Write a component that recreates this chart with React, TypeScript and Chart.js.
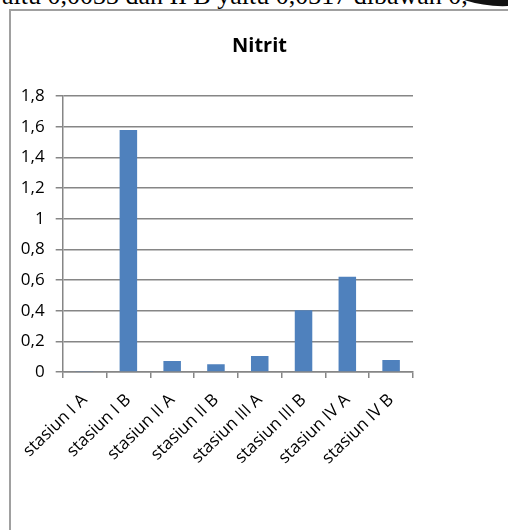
import React, { useEffect, useRef } from "react";
import { Chart, registerables } from "chart.js";

Chart.register(...registerables);

// Nitrite concentration per sampling station
const categories = [
  "stasiun I A",
  "stasiun I B",
  "stasiun II A",
  "stasiun II B",
  "stasiun III A",
  "stasiun III B",
  "stasiun IV A",
  "stasiun IV B",
];
const nitritValues = [0.0033, 1.578, 0.072, 0.05, 0.104, 0.402, 0.622, 0.078];
const yMin = 0;
const yMax = 1.8;
const yStep = 0.2;
const chartTitle = "Nitrit";
const captionText = "yaitu 0,0033 dan II B yaitu 0,0317 dibawah 0,";

const GRID = "#868686";
const BAR = "#4F81BD";
const FONT = "'Open Sans', 'Noto Sans', sans-serif";

const formatTick = (v: number) =>
  String(Math.round(v * 10) / 10).replace(".", ",");

function NitritChart() {
  const ref = useRef<HTMLCanvasElement | null>(null);

  useEffect(() => {
    if (!ref.current) return;
    const chart = new Chart(ref.current, {
      type: "bar",
      data: {
        labels: categories,
        datasets: [
          {
            label: chartTitle,
            data: nitritValues,
            backgroundColor: BAR,
            borderWidth: 0,
            categoryPercentage: 1,
            barPercentage: 0.4,
          },
        ],
      },
      options: {
        animation: false,
        responsive: false,
        devicePixelRatio: 1,
        layout: { padding: 0 },
        plugins: {
          legend: { display: false },
          tooltip: { enabled: false },
          title: {
            display: true,
            text: chartTitle,
            color: "#000",
            font: { family: FONT, size: 20, weight: "bold" },
            padding: { top: 23, bottom: 38 },
          },
        },
        scales: {
          x: {
            afterFit: (scale: any) => {
              scale.height = 158;
            },
            grid: {
              display: true,
              drawOnChartArea: false,
              drawTicks: true,
              tickLength: 6,
              color: GRID,
              lineWidth: 1.5,
            },
            border: { display: true, color: GRID, width: 1.5 },
            ticks: {
              color: "#000",
              font: { family: FONT, size: 17 },
              minRotation: 44,
              maxRotation: 44,
              autoSkip: false,
              padding: 12,
            },
          },
          y: {
            min: yMin,
            max: yMax,
            afterFit: (scale: any) => {
              scale.width = 51;
            },
            grid: {
              color: GRID,
              lineWidth: 1.5,
              drawTicks: true,
              tickLength: 7,
            },
            border: { display: true, color: GRID, width: 1.5 },
            ticks: {
              stepSize: yStep,
              color: "#000",
              font: { family: FONT, size: 17 },
              padding: 11,
              callback: (v: any) => formatTick(Number(v)),
            },
          },
          // empty right-hand axis that reserves the blank strip beside the plot
          spacer: {
            type: "linear",
            position: "right",
            display: true,
            grid: { display: false, drawTicks: false },
            border: { display: false },
            ticks: { display: false },
            afterFit: (scale: any) => {
              scale.width = 95;
            },
          },
        },
      },
    });
    return () => chart.destroy();
  }, []);

  return <canvas ref={ref} width={497} height={519} />;
}

export default function App() {
  return (
    <div
      style={{
        position: "fixed",
        left: 0,
        top: 0,
        width: 508,
        height: 530,
        overflow: "hidden",
        background: "#fff",
      }}
    >
      <div
        style={{
          position: "absolute",
          left: -11,
          top: -17,
          whiteSpace: "nowrap",
          fontFamily: "'Liberation Serif', 'DejaVu Serif', serif",
          fontSize: 26,
          lineHeight: "26px",
          color: "#000",
        }}
      >
        {captionText}
      </div>
      <svg
        width={508}
        height={20}
        style={{ position: "absolute", left: 0, top: 0 }}
      >
        <path d="M 464 0 Q 486 7 508 6 L 508 0 Z" fill="#111" />
      </svg>
      <div
        style={{
          position: "absolute",
          left: 9,
          top: 9,
          width: 520,
          height: 540,
          borderLeft: "2px solid #a0a0a0",
          borderTop: "2px solid #a0a0a0",
        }}
      />
      <div style={{ position: "absolute", left: 11, top: 11 }}>
        <NitritChart />
      </div>
    </div>
  );
}
